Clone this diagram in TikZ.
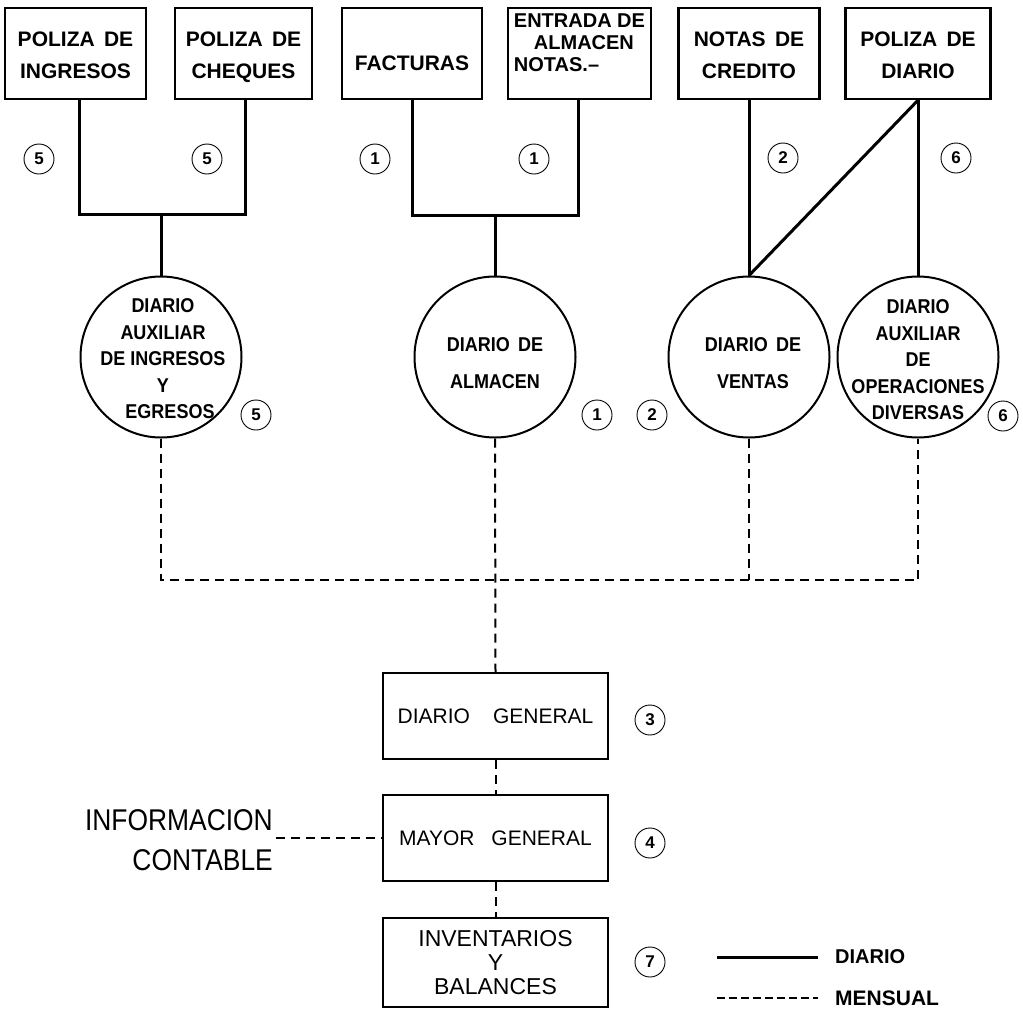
\documentclass[tikz,border=0pt]{standalone}
\usepackage{fontspec}
\setmainfont{Liberation Sans}
\newfontfamily\condfont{Liberation Sans}[FakeStretch=0.88]
\newfontfamily\circfont{Liberation Sans}[FakeStretch=0.9]
\begin{document}
\begin{tikzpicture}[x=1pt,y=-1pt,
  topbox/.style={draw,line width=2.4pt,minimum height=91pt,inner sep=0pt,align=center,
    font=\fontsize{21}{32}\selectfont\bfseries},
  lowbox/.style={draw,line width=2.4pt,minimum width=225pt,inner sep=0pt,align=center,
    font=\fontsize{21}{24}\selectfont},
  circ/.style={draw,circle,line width=2pt,minimum size=161pt,inner sep=0pt},
  ctext/.style={align=center,inner sep=0pt,font=\fontsize{20}{26.5}\selectfont\circfont\bfseries},
  num/.style={draw,circle,line width=0.9pt,minimum size=30pt,inner sep=0pt,
    font=\fontsize{17}{17}\selectfont\bfseries},
  sol/.style={line width=3pt},
  dsh/.style={line width=2pt,dash pattern=on 9pt off 6pt},
  legtext/.style={anchor=west,inner sep=0pt,font=\fontsize{20}{24}\selectfont\bfseries}]
\useasboundingbox (0,0) rectangle (1023,1010);

% top documents
\node[topbox,minimum width=141pt] (b1) at (75.5,53.5) {\raisebox{-3pt}[\height][\depth]{\begin{tabular}{@{}c@{}}POLIZA\, DE\\INGRESOS\end{tabular}}};
\node[topbox,minimum width=137pt] (b2) at (243.5,53.5) {\raisebox{-3pt}[\height][\depth]{\begin{tabular}{@{}c@{}}POLIZA\, DE\\CHEQUES\end{tabular}}};
\node[topbox,minimum width=140pt] (b3) at (412,53.5) {\raisebox{-10pt}[\height][\depth]{FACTURAS}};
\node[topbox,minimum width=143pt] (b4) at (579.5,53.5)
  {\raisebox{8pt}[\height][\depth]{\fontsize{20}{22}\selectfont\begin{tabular}{@{}l@{}}ENTRADA DE\\\hspace*{20pt}ALMACEN\\NOTAS.--\end{tabular}}};
\node[topbox,minimum width=141pt] (b5) at (749,53.5) {\raisebox{-3pt}[\height][\depth]{\begin{tabular}{@{}c@{}}NOTAS\, DE\\CREDITO\end{tabular}}};
\node[topbox,minimum width=145pt] (b6) at (918,53.5) {\raisebox{-3pt}[\height][\depth]{\begin{tabular}{@{}c@{}}POLIZA\, DE\\DIARIO\end{tabular}}};

% journals
\node[circ] (c1) at (161,357) {};
\node[circ] (c2) at (495,357) {};
\node[circ] (c3) at (749,357) {};
\node[circ] (c4) at (918,357) {};
\node[ctext] (t1) at (163,359) {DIARIO\\AUXILIAR\\DE INGRESOS\\Y\\\hspace*{14pt}EGRESOS};
\node[ctext,font=\fontsize{20}{37}\selectfont\circfont\bfseries] (t2) at (495,363) {DIARIO\, DE\\ALMACEN};
\node[ctext,font=\fontsize{20}{37}\selectfont\circfont\bfseries] (t3) at (753,363) {DIARIO\, DE\\VENTAS};
\node[ctext] (t4) at (918,360) {DIARIO\\AUXILIAR\\DE\\OPERACIONES\\DIVERSAS};

% lower books
\node[lowbox,minimum height=86pt] (dg) at (495.5,716) {DIARIO\hspace{1.1em}GENERAL};
\node[lowbox,minimum height=86pt] (mg) at (495.5,838) {MAYOR\hspace{0.8em}GENERAL};
\node[lowbox,minimum height=89pt,font=\fontsize{23}{24}\selectfont] (ib) at (495.5,962.5) {INVENTARIOS\\Y\\BALANCES};

% circled numbers
\node[num] (n1) at (39,159) {5};
\node[num] (n2) at (207,159) {5};
\node[num] (n3) at (375,159) {1};
\node[num] (n4) at (534,159) {1};
\node[num] (n5) at (783,158) {2};
\node[num] (n6) at (956,158) {6};
\node[num] (n7) at (256,415) {5};
\node[num] (n8) at (597,415) {1};
\node[num] (n9) at (652,415) {2};
\node[num] (n10) at (1003,416) {6};
\node[num] (n11) at (650,720) {3};
\node[num] (n12) at (650,843) {4};
\node[num] (n13) at (650,962) {7};

% solid (daily) connectors
\coordinate (x1) at (79,214);
\coordinate (x2) at (245,214);
\coordinate (j1) at (161,214);
\coordinate (x3) at (412,215);
\coordinate (x4) at (578,215);
\coordinate (j2) at (495,215);
\draw[sol] (b1.south -| x1) -- (x1) -- (x2) -- (b2.south -| x2);
\draw[sol] (j1) -- (c1.north);
\draw[sol] (b3.south -| x3) -- (x3) -- (x4) -- (b4.south -| x4);
\draw[sol] (j2) -- (c2.north);
\draw[sol] (b5.south) -- (c3.north);
\draw[sol] (b6.south) -- (c4.north);
\draw[sol] (b6.south) -- (c3.north);

% dashed (monthly) connectors
\coordinate (busL) at (161,580);
\coordinate (busR) at (918,580);
\draw[dsh] (c1.south) -- (busL) -- (busR) -- (c4.south);
\draw[dsh] (c3.south) -- (c3.south |- busL);
\draw[dsh] (c2.south) -- (dg.north);
\draw[dsh] (dg.south) -- (mg.north);
\draw[dsh] (mg.south) -- (ib.north);

% informacion contable
\node[anchor=east,align=right,inner sep=0pt,font=\fontsize{30}{40}\selectfont\condfont] (info) at (273,840) {INFORMACION\\CONTABLE};
\draw[dsh] (info.east |- mg.west) ++(3,0) -- (mg.west);

% legend
\coordinate (la1) at (717,957);
\coordinate (la2) at (818,957);
\coordinate (lb1) at (717,998);
\coordinate (lb2) at (818,998);
\draw[sol] (la1) -- (la2);
\draw[line width=2pt,dash pattern=on 8pt off 4pt] (lb1) -- (lb2);
\node[legtext] (ld) at (835,957) {DIARIO};
\node[legtext,font=\fontsize{21}{24}\selectfont\bfseries] (lm) at (835,998) {MENSUAL};
\end{tikzpicture}
\end{document}
